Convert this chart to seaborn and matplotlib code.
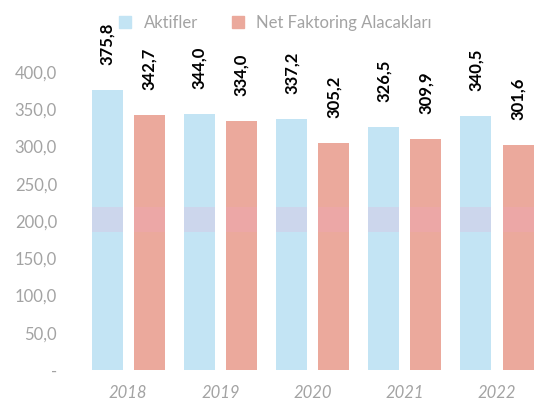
import numpy as np
import pandas as pd
import seaborn as sns
import matplotlib
matplotlib.use("Agg")
import matplotlib.pyplot as plt
from matplotlib.ticker import FuncFormatter

# Data (milyar TL)
years = ["2018", "2019", "2020", "2021", "2022"]
aktifler = [375.8, 344.0, 337.2, 326.5, 340.5]
net_faktoring = [342.7, 334.0, 305.2, 309.9, 301.6]
series_names = ["Aktifler", "Net Faktoring Alacakları"]

df = pd.DataFrame({
    "Yıl": years * 2,
    "Değer": aktifler + net_faktoring,
    "Seri": [series_names[0]] * len(years) + [series_names[1]] * len(years),
})

sns.set_theme(style="white")
plt.rcParams["font.family"] = ["Lato", "DejaVu Sans"]

blue = "#c3e4f4"
red = "#eba99c"
grey = "#a3a3a3"

fig = plt.figure(figsize=(5.4, 4.08), dpi=100)
ax = fig.add_axes([82 / 540, 38 / 408, (540 - 82) / 540, 0.8765])

sns.barplot(data=df, x="Yıl", y="Değer", hue="Seri", order=years,
            hue_order=series_names, palette=[blue, red], width=0.912,
            gap=0.263, saturation=1, ax=ax, legend=False, linewidth=0)

ax.set_xlim(-0.5, 4.466)
ax.set_ylim(0, 480)
ax.set_yticks(np.arange(0, 401, 50))
ax.yaxis.set_major_formatter(FuncFormatter(
    lambda v, _: "-" if v == 0 else f"{v:.1f}".replace(".", ",")))
ax.tick_params(axis="y", colors=grey, labelsize=12, length=0, pad=18)
ax.tick_params(axis="x", colors=grey, labelsize=12, length=0, pad=11)
for lbl in ax.get_xticklabels():
    lbl.set_fontstyle("italic")
ax.set_xlabel("")
ax.set_ylabel("")
for s in ax.spines.values():
    s.set_visible(False)

# tinted band across the bars
for patch in ax.patches:
    band = ax.axhspan(185, 219, color="#f29fcf", alpha=0.2, lw=0, zorder=3)
    band.set_clip_path(patch)

# rotated value labels above each bar
for container in ax.containers:
    labels = [f"{v:.1f}".replace(".", ",") for v in container.datavalues]
    ax.bar_label(container, labels=labels, rotation=90, padding=18,
                 fontsize=12, fontweight="bold", color="black")

# legend across the top
handles = [plt.Line2D([], [], marker="s", ls="", markersize=8, color=c)
           for c in (blue, red)]
fig.legend(handles, series_names, loc="upper center",
           bbox_to_anchor=(0.5, 1.0), ncol=2, frameon=False, fontsize=12,
           labelcolor=grey, handletextpad=0.1, columnspacing=1.4)

fig.savefig("out.png", dpi=100)
